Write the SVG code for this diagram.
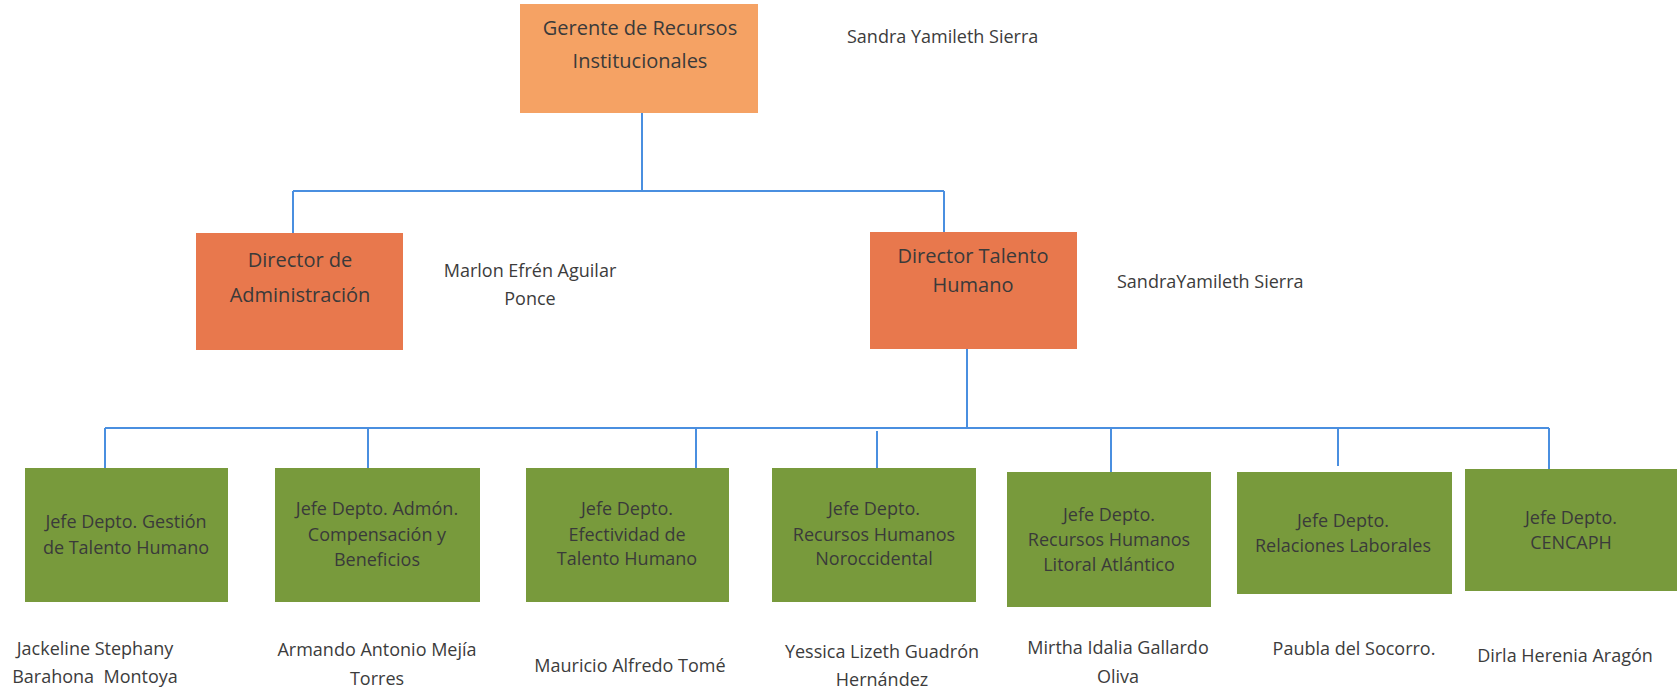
<svg xmlns="http://www.w3.org/2000/svg" width="1680" height="691" viewBox="0 0 1680 691">
<style>
  .bg { fill: #ffffff; }
  .top { fill: #f5a264; }
  .dir { fill: #e8784d; }
  .jefe { fill: #789a3c; }
  .lbl { font-family: "Open Sans", "Liberation Sans", sans-serif; fill: #3a3a3a; text-anchor: middle; }
  .big { font-size: 20px; }
  .mid { font-size: 18px; }
  .name { font-family: "Open Sans", "Liberation Sans", sans-serif; fill: #3c3c3c; font-size: 18px; text-anchor: middle; }
  .conn { stroke: #4a8fe0; stroke-width: 2; fill: none; }
</style>
<rect class="bg" x="0" y="0" width="1680" height="691"/>
<g id="connectors">
  <path class="conn" d="M642 113 V191 M293 191 H944 M293 191 V233 M944 191 V232"/>
  <path class="conn" d="M967 349 V428 M105 428 H1549"/>
  <path class="conn" d="M105 428 V468 M368 428 V468 M696 428 V468 M877 431 V468 M1111 428 V472 M1338 428 V466 M1549 428 V469"/>
</g>
<g id="gerente">
  <rect class="top" x="520" y="4" width="238" height="109"/>
  <text class="lbl big" x="640" y="35">Gerente de Recursos</text>
  <text class="lbl big" x="640" y="68">Institucionales</text>
  <text class="name" x="847" y="43" style="text-anchor:start">Sandra Yamileth Sierra</text>
</g>
<g id="director-admin">
  <rect class="dir" x="196" y="233" width="207" height="117"/>
  <text class="lbl big" x="300" y="267">Director de</text>
  <text class="lbl big" x="300" y="302">Administración</text>
  <text class="name" x="530" y="277">Marlon Efrén Aguilar</text>
  <text class="name" x="530" y="305">Ponce</text>
</g>
<g id="director-talento">
  <rect class="dir" x="870" y="232" width="207" height="117"/>
  <text class="lbl big" x="973" y="263">Director Talento</text>
  <text class="lbl big" x="973" y="292">Humano</text>
  <text class="name" x="1117" y="288" style="text-anchor:start">SandraYamileth Sierra</text>
</g>
<g id="jefe-gestion">
  <rect class="jefe" x="25" y="468" width="203" height="134"/>
  <text class="lbl mid" x="126" y="528">Jefe Depto. Gestión</text>
  <text class="lbl mid" x="126" y="554">de Talento Humano</text>
  <text class="name" x="95" y="655">Jackeline Stephany</text>
  <text class="name" x="95" y="683" xml:space="preserve">Barahona  Montoya</text>
</g>
<g id="jefe-compensacion">
  <rect class="jefe" x="275" y="468" width="205" height="134"/>
  <text class="lbl mid" x="377" y="515">Jefe Depto. Admón.</text>
  <text class="lbl mid" x="377" y="541">Compensación y</text>
  <text class="lbl mid" x="377" y="566">Beneficios</text>
  <text class="name" x="377" y="656">Armando Antonio Mejía</text>
  <text class="name" x="377" y="685">Torres</text>
</g>
<g id="jefe-efectividad">
  <rect class="jefe" x="526" y="468" width="203" height="134"/>
  <text class="lbl mid" x="627" y="515">Jefe Depto.</text>
  <text class="lbl mid" x="627" y="541">Efectividad de</text>
  <text class="lbl mid" x="627" y="565">Talento Humano</text>
  <text class="name" x="630" y="672">Mauricio Alfredo Tomé</text>
</g>
<g id="jefe-noroccidental">
  <rect class="jefe" x="772" y="468" width="204" height="134"/>
  <text class="lbl mid" x="874" y="515">Jefe Depto.</text>
  <text class="lbl mid" x="874" y="541">Recursos Humanos</text>
  <text class="lbl mid" x="874" y="565">Noroccidental</text>
  <text class="name" x="882" y="658">Yessica Lizeth Guadrón</text>
  <text class="name" x="882" y="686">Hernández</text>
</g>
<g id="jefe-litoral">
  <rect class="jefe" x="1007" y="472" width="204" height="135"/>
  <text class="lbl mid" x="1109" y="521">Jefe Depto.</text>
  <text class="lbl mid" x="1109" y="546">Recursos Humanos</text>
  <text class="lbl mid" x="1109" y="571">Litoral Atlántico</text>
  <text class="name" x="1118" y="654">Mirtha Idalia Gallardo</text>
  <text class="name" x="1118" y="683">Oliva</text>
</g>
<g id="jefe-relaciones">
  <rect class="jefe" x="1237" y="472" width="215" height="122"/>
  <text class="lbl mid" x="1343" y="527">Jefe Depto.</text>
  <text class="lbl mid" x="1343" y="552">Relaciones Laborales</text>
  <text class="name" x="1354" y="655">Paubla del Socorro.</text>
</g>
<g id="jefe-cencaph">
  <rect class="jefe" x="1465" y="469" width="212" height="122"/>
  <text class="lbl mid" x="1571" y="524">Jefe Depto.</text>
  <text class="lbl mid" x="1571" y="549">CENCAPH</text>
  <text class="name" x="1565" y="662">Dirla Herenia Aragón</text>
</g>
</svg>
